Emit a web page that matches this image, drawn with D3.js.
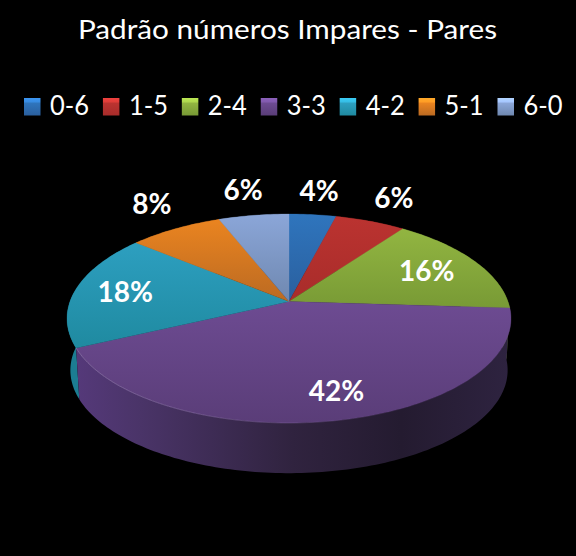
<!DOCTYPE html>
<html>
<head>
<meta charset="utf-8">
<script src="https://cdn.jsdelivr.net/npm/d3@7"></script>
<style>
  html, body { margin: 0; padding: 0; background: #000; }
  svg { display: block; }
  text { font-family: Lato, "Open Sans", sans-serif; fill: #fff; }
</style>
</head>
<body>
<svg id="chart" width="576" height="556"></svg>
<script>
// data
var categories = ['0-6', '1-5', '2-4', '3-3', '4-2', '5-1', '6-0'];
var percents = [4, 6, 16, 42, 18, 8, 6];
var titleText = 'Padrão números Impares - Pares';

// slice colours, top and bottom of each gradient
var topColors = ['#2f75bd', '#bb3330', '#92b541', '#6d4b92', '#2d9fc0', '#ea8420', '#8ba6d8'];
var bottomColors = ['#2a5f9e', '#a82c2a', '#789a35', '#5a3d78', '#1f8aa0', '#bb6a22', '#6f88b0'];
var wallColors = ['#1c3f69', '#701d1c', '#506724', '#3a2a50', '#1c7d92', '#7c4616', '#4a5b75'];

// label placement, as a fraction of the radius and a nudge in px
var labelRadius = [1.33, 1.347, 0.73, 0.78, 0.765, 1.4, 1.358];
var labelNudge = [0, 0, 0, 11, 0, 15, 0];

var width = 576, height = 556;
var svg = d3.select('#chart');
var defs = svg.append('defs');

// 3D look: a unit disc seen in perspective, k is the foreshortening
var apexX = 289, apexY = 301.5;
var radiusX = 219, radiusY = 101.7, k = 0.1627;
var depth = 52, bottomScale = 0.985;

function project(angle, r, isBottom) {
	var u = Math.sin(angle) * r;
	var v = -Math.cos(angle) * r;
	var w = 1 - k * v;
	var s = isBottom ? bottomScale : 1;
	return [apexX + s * radiusX * u / w, apexY + (isBottom ? depth : 0) + s * radiusY * v / w];
}

function arcPoints(a0, a1, isBottom) {
	var n = Math.max(2, Math.ceil(Math.abs(a1 - a0) / 0.02));
	return d3.range(n + 1).map(function(i) {
		return project(a0 + (a1 - a0) * i / n, 1, isBottom);
	});
}

var line = d3.line();
var pie = d3.pie().sort(null).value(function(d) { return d.value; });
var slices = pie(categories.map(function(c, i) { return { name: c, value: percents[i], index: i }; }));

// gradients
slices.forEach(function(d) {
	var i = d.data.index;
	var g = defs.append('linearGradient').attr('id', 'top' + i)
		.attr('x1', 0).attr('y1', 0).attr('x2', 0).attr('y2', 1);
	g.append('stop').attr('offset', 0).attr('stop-color', topColors[i]);
	g.append('stop').attr('offset', 1).attr('stop-color', bottomColors[i]);

	var s = defs.append('linearGradient').attr('id', 'swatch' + i)
		.attr('x1', 0).attr('y1', 0).attr('x2', 0).attr('y2', 1);
	s.append('stop').attr('offset', 0).attr('stop-color', d3.rgb(topColors[i]).brighter(0.7));
	s.append('stop').attr('offset', 0.22).attr('stop-color', d3.rgb(topColors[i]).brighter(0.5));
	s.append('stop').attr('offset', 0.3).attr('stop-color', topColors[i]);
	s.append('stop').attr('offset', 1).attr('stop-color', bottomColors[i]);
});

// purple wall is shaded from left to right
var wallShade = defs.append('linearGradient').attr('id', 'wallShade')
	.attr('gradientUnits', 'userSpaceOnUse')
	.attr('x1', 75).attr('y1', 0).attr('x2', 510).attr('y2', 0);
[[0, '#55397a'], [0.15, '#4a3468'], [0.5, '#30233f'], [0.75, '#241b30'], [1, '#2e2340']].forEach(function(p) {
	wallShade.append('stop').attr('offset', p[0]).attr('stop-color', p[1]);
});

var rimFade = defs.append('linearGradient').attr('id', 'rimFade')
	.attr('gradientUnits', 'userSpaceOnUse')
	.attr('x1', 80).attr('y1', 0).attr('x2', 400).attr('y2', 0);
rimFade.append('stop').attr('offset', 0).attr('stop-color', '#a58cc4').attr('stop-opacity', 0.7);
rimFade.append('stop').attr('offset', 1).attr('stop-color', '#a58cc4').attr('stop-opacity', 0);

// side walls, back ones first
var walls = slices.slice().sort(function(a, b) {
	return Math.abs((a.startAngle + a.endAngle) / 2 - Math.PI) < Math.abs((b.startAngle + b.endAngle) / 2 - Math.PI) ? 1 : -1;
});
svg.append('g').selectAll('path').data(walls).join('path')
	.attr('d', function(d) {
		var pts = arcPoints(d.startAngle, d.endAngle, false)
			.concat(arcPoints(d.endAngle, d.startAngle, true));
		return line(pts) + 'Z';
	})
	.attr('fill', function(d) { return d.data.index === 3 ? 'url(#wallShade)' : wallColors[d.data.index]; });

// top of the pie
svg.append('g').selectAll('path').data(slices).join('path')
	.attr('d', function(d) {
		return line([[apexX, apexY]].concat(arcPoints(d.startAngle, d.endAngle, false))) + 'Z';
	})
	.attr('fill', function(d) { return 'url(#top' + d.data.index + ')'; })
	.attr('stroke', function(d) { return 'url(#top' + d.data.index + ')'; })
	.attr('stroke-width', 0.3);

// thin light edge on the front of the big slice
var big = slices[3];
svg.append('path')
	.attr('d', line(arcPoints(big.startAngle, big.endAngle, false)))
	.attr('fill', 'none')
	.attr('stroke', 'url(#rimFade)')
	.attr('stroke-width', 0.8);

// data labels
svg.append('g').selectAll('text').data(slices).join('text')
	.attr('x', function(d, i) { return project((d.startAngle + d.endAngle) / 2, labelRadius[i])[0] + labelNudge[i]; })
	.attr('y', function(d, i) { return project((d.startAngle + d.endAngle) / 2, labelRadius[i])[1]; })
	.attr('dy', '0.36em')
	.attr('text-anchor', 'middle')
	.attr('font-size', 28)
	.attr('font-weight', 700)
	.text(function(d) { return d.data.value + '%'; });

// title, Lato runs narrower than the original face so stretch it to width
svg.append('text')
	.attr('x', 78)
	.attr('y', 39)
	.attr('font-size', 27.5)
	.attr('textLength', 419)
	.attr('lengthAdjust', 'spacingAndGlyphs')
	.text(titleText);

// legend
var legendX = d3.scalePoint().domain(categories).range([24, 497.5]);
var legend = svg.append('g').selectAll('g').data(slices).join('g')
	.attr('transform', function(d) { return 'translate(' + legendX(d.data.name) + ',98)'; });
legend.append('rect')
	.attr('width', 16.5)
	.attr('height', 17.5)
	.attr('fill', function(d) { return 'url(#swatch' + d.data.index + ')'; });
legend.append('text')
	.attr('x', 26)
	.attr('y', 17)
	.attr('font-size', 27)
	.attr('textLength', 39)
	.attr('lengthAdjust', 'spacingAndGlyphs')
	.text(function(d) { return d.data.name; });
</script>
</body>
</html>
